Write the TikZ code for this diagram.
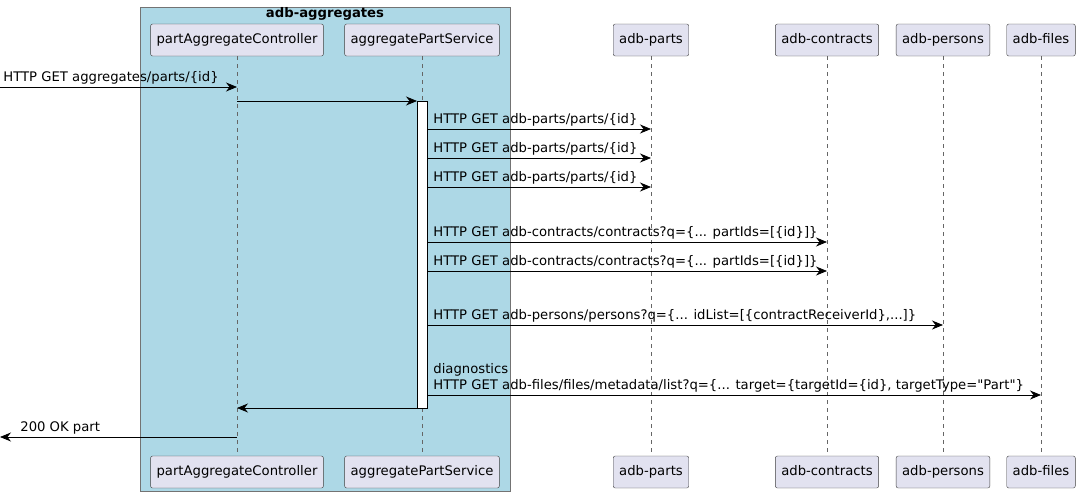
\documentclass[tikz,border=0pt]{standalone}
\usepackage{fontspec}
\setmainfont[Mapping=]{DejaVu Sans}
\usetikzlibrary{arrows.meta}
\definecolor{partfill}{HTML}{E2E2F0}
\definecolor{boxfill}{HTML}{ADD8E6}
\begin{document}
\begin{tikzpicture}[x=1pt,y=-1pt,
  part/.style={draw=black!75,fill=partfill,rounded corners=2pt,minimum height=32pt,inner xsep=6pt,text height=10pt,text depth=3pt,font=\fontsize{13.2}{16}\selectfont},
  life/.style={draw=black!60,dash pattern=on 4pt off 4pt,line width=0.5pt},
  msg/.style={-{Stealth[length=11pt,width=9pt]},line width=0.8pt},
  lbl/.style={anchor=south west,inner sep=1pt,font=\fontsize{13.2}{16}\selectfont,align=left}]
\useasboundingbox (0,0) rectangle (1083,496);
\draw[fill=boxfill,draw=black!55] (140,7) rectangle (510,491);
\node[font=\fontsize{13.2}{16}\selectfont\bfseries] at (325,14) {adb-aggregates};

% participants
\node[part] (ctl) at (237,40) {partAggregateController};
\node[part] (svc) at (422,40) {aggregatePartService};
\node[part] (parts) at (651,40) {adb-parts};
\node[part] (contracts) at (827,40) {adb-contracts};
\node[part] (persons) at (943,40) {adb-persons};
\node[part] (files) at (1041,40) {adb-files};
\node[part] (ctlb) at (237,472) {partAggregateController};
\node[part] (svcb) at (422,472) {aggregatePartService};
\node[part] (partsb) at (651,472) {adb-parts};
\node[part] (contractsb) at (827,472) {adb-contracts};
\node[part] (personsb) at (943,472) {adb-persons};
\node[part] (filesb) at (1041,472) {adb-files};

% lifelines
\foreach \a/\b in {ctl/ctlb,svc/svcb,parts/partsb,contracts/contractsb,persons/personsb,files/filesb}
  \draw[life] (\a) -- (\b);
\draw[fill=white,draw=black] (417,101) rectangle (427,408);
\coordinate (left) at (0,0);

% messages
\draw[msg] (left |- 0,87) -- (ctl |- 0,87) node[lbl,at start,xshift=2pt,yshift=1pt] {HTTP GET aggregates/parts/\{id\}};
\draw[msg] (ctl |- 0,101) -- (417,101);
\foreach \y in {129,158,187}
  \draw[msg] (427,\y) -- (parts |- 0,\y) node[lbl,at start,xshift=5pt,yshift=1pt] {HTTP GET adb-parts/parts/\{id\}};
\foreach \y in {242,271}
  \draw[msg] (427,\y) -- (contracts |- 0,\y) node[lbl,at start,xshift=5pt,yshift=1pt] {HTTP GET adb-contracts/contracts?q=\{... partIds=[\{id\}]\}};
\draw[msg] (427,325) -- (persons |- 0,325) node[lbl,at start,xshift=5pt,yshift=1pt] {HTTP GET adb-persons/persons?q=\{... idList=[\{contractReceiverId\},...]\}};
\draw[msg] (427,395) -- (files |- 0,395) node[lbl,at start,xshift=5pt,yshift=1pt] {diagnostics\\HTTP GET adb-files/files/metadata/list?q=\{... target=\{targetId=\{id\}, targetType=\symbol{34}Part\symbol{34}\}};
\draw[msg] (417,408) -- (ctl |- 0,408);
\draw[msg] (ctl |- 0,437) -- (left |- 0,437) node[lbl,pos=0.92,yshift=1pt] {200 OK part};
\end{tikzpicture}
\end{document}
